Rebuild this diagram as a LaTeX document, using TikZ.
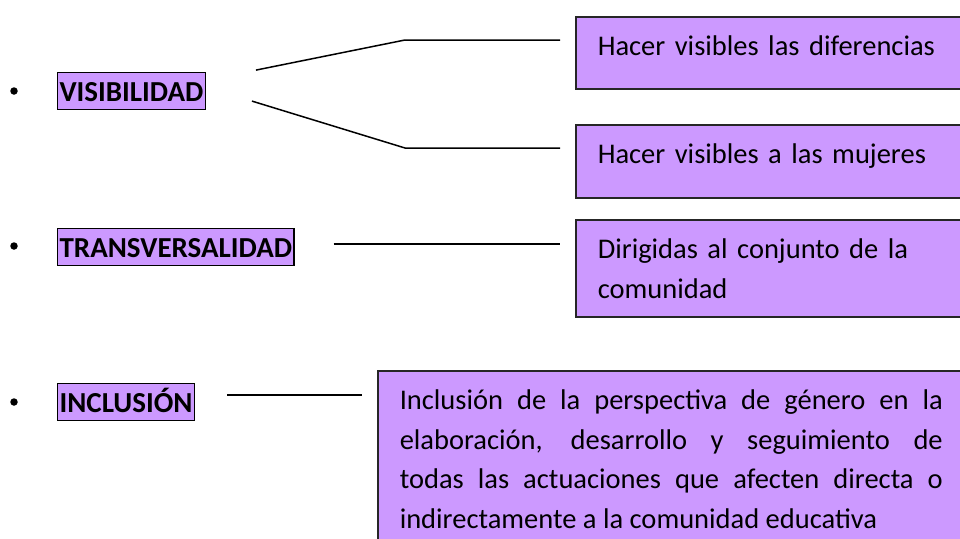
\documentclass[tikz,border=0pt]{standalone}
\usepackage{fontspec}
\setmainfont{Carlito}
\definecolor{lila}{HTML}{CC99FF}

\begin{document}
\begin{tikzpicture}[x=1pt,y=-1pt,
		tag/.style={draw=black,fill=lila,line width=1.2pt,inner xsep=2pt,inner ysep=0pt,text height=29pt,text depth=8pt,anchor=north west,font=\fontsize{29}{40}\selectfont\bfseries},
		panel/.style={draw=black!85,fill=lila,line width=1.5pt,inner xsep=22pt,inner ysep=0pt,text height=39pt,anchor=north west,text width=360pt,align=left,font=\fontsize{28.5}{39.5}\selectfont},
		dot/.style={circle,fill=black,inner sep=0pt,minimum size=7.5pt},
		link/.style={line width=1.5pt}]
			\useasboundingbox (0,0) rectangle (960,538);

			% principios
			\node[dot] (b1) at (14,91) {};
			\node[dot] (b2) at (14,246) {};
			\node[dot] (b3) at (14,402) {};
			\node[tag] (vis) at (57,72) {VISIBILIDAD};
			\node[tag] (tra) at (57,228) {TRANSVERSALIDAD};
			\node[tag] (inc) at (57,383) {INCLUSIÓN};

			% cuadros
			\node[panel,text depth=33pt] (dif) at (575,16) {Hacer visibles las diferencias};
			\node[panel,text depth=34pt] (muj) at (575,124) {Hacer visibles a las mujeres};
			\node[panel,text depth=58pt] (com) at (575,219) {Dirigidas al conjunto de la comunidad};
			\node[panel,text depth=200pt,text width=543pt,align=justify] (edu) at (377,370) {Inclusión de la perspectiva de género en la\linebreak elaboración, desarrollo y seguimiento de\linebreak todas las actuaciones que afecten directa o\linebreak indirectamente a la comunidad educativa};

			\coordinate (kv1) at (405,40);
			\coordinate (kv2) at (405,148);
			\draw[link] ([shift={(50,-21)}]vis.east) -- (kv1) -- ([xshift=-15pt]dif.west |- kv1);
			\draw[link] ([shift={(46,10)}]vis.east) -- (kv2) -- ([xshift=-15pt]muj.west |- kv2);
			\draw[link] ([shift={(39,-3)}]tra.east) coordinate (kt) -- ([xshift=-15pt]com.west |- kt);
			\draw[link] ([shift={(32,-7)}]inc.east) coordinate (ki) -- ([xshift=-15pt]edu.west |- ki);
		\end{tikzpicture}
\end{document}
